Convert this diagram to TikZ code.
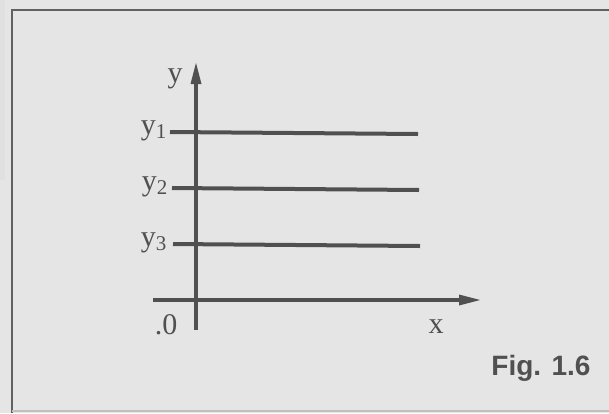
\documentclass[tikz,border=0pt]{standalone}
\usepackage{fontspec}
\setmainfont{Liberation Serif}
\newfontfamily\figfont{Liberation Sans}
\usepackage{tikz}
\usetikzlibrary{arrows.meta}
\usepackage{xcolor}
\definecolor{paper}{HTML}{E5E5E5}
\definecolor{ink}{HTML}{505050}

\begin{document}
\begin{tikzpicture}[x=0.5pt, y=-0.5pt, line width=1.6pt, color=ink,
  lbl/.style={inner sep=0pt, font=\fontsize{15}{17}\selectfont, text=ink},
  level/.style={line width=2pt}]
  \useasboundingbox (0,0) rectangle (609,413);
  \fill[paper] (0,0) rectangle (609,413);
  \fill[black!12] (0,0) rectangle (5,180);
  \draw[line width=1.2pt, ink!90] (12,413) -- (12,10) -- (609,10);
  \draw[line width=0.6pt, black!25] (12,411) -- (609,411);

  % axes
  \coordinate (ybot) at (196,330);
  \coordinate (ytop) at (196,62);
  \coordinate (xleft) at (153,300);
  \coordinate (xright) at (481,300);
  \draw[-{Triangle[length=11pt, width=5pt]}] (ybot) -- (ytop);
  \draw[-{Triangle[length=11pt, width=5pt]}] (xleft) -- (xright);

  % levels
  \coordinate (a1) at (170,132);
  \coordinate (b1) at (418,134);
  \coordinate (a2) at (172,188);
  \coordinate (b2) at (419,190);
  \coordinate (a3) at (173,244);
  \coordinate (b3) at (420,246);
  \draw[level] (a1) -- (b1);
  \draw[level] (a2) -- (b2);
  \draw[level] (a3) -- (b3);

  \node[lbl] (ylab) at (175,79) {y};
  \node[lbl] (y1) at (154,131) {y\textsubscript{1}};
  \node[lbl] (y2) at (155,187) {y\textsubscript{2}};
  \node[lbl] (y3) at (154,243) {y\textsubscript{3}};
  \node[lbl] (orig) at (166,325) {.0};
  \node[lbl] (xlab) at (436,327) {x};
  \node[inner sep=0pt, font=\figfont\bfseries\fontsize{14}{16}\selectfont, text=ink] (fig) at (541,368) {Fig. 1.6};
\end{tikzpicture}
\end{document}
